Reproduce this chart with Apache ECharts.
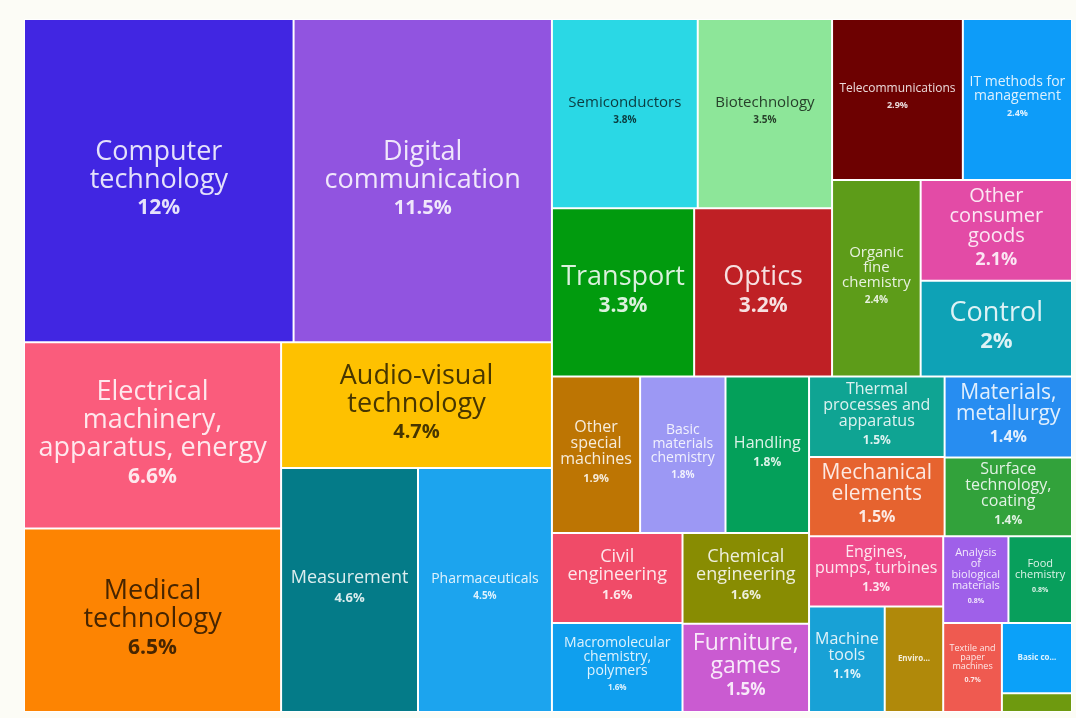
<!DOCTYPE html>
<html>
<head>
<meta charset="utf-8">
<title>Technology fields</title>
<script src="https://cdn.jsdelivr.net/npm/echarts@6/dist/echarts.min.js"></script>
<style>
  html, body { margin: 0; padding: 0; background: #fcfcf6; }
  #main { width: 1076px; height: 718px; }
</style>
</head>
<body>
<div id="main"></div>
<script>
// technology fields, largest share first (%)
const fields = [
  'Computer technology', 'Digital communication', 'Electrical machinery, apparatus, energy',
  'Medical technology', 'Audio-visual technology', 'Measurement', 'Pharmaceuticals',
  'Semiconductors', 'Biotechnology', 'Transport', 'Optics', 'Telecommunications',
  'IT methods for management', 'Organic fine chemistry', 'Other consumer goods', 'Control',
  'Other special machines', 'Basic materials chemistry', 'Handling', 'Civil engineering',
  'Macromolecular chemistry, polymers', 'Chemical engineering', 'Furniture, games',
  'Thermal processes and apparatus', 'Mechanical elements', 'Materials, metallurgy',
  'Surface technology, coating', 'Engines, pumps, turbines', 'Machine tools',
  'Environmental technology', 'Analysis of biological materials', 'Food chemistry',
  'Textile and paper machines', 'Basic communication processes',
  'Micro-structural and nano-technology'
];
const shares = [
  12.0, 11.5, 6.6,
  6.5, 4.7, 4.6, 4.5,
  3.8, 3.5, 3.3, 3.2, 2.9,
  2.42, 2.4, 2.1, 2.0,
  1.9, 1.84, 1.8, 1.62,
  1.6, 1.58, 1.54,
  1.5, 1.48, 1.42,
  1.38, 1.3, 1.1,
  0.85, 0.78, 0.76,
  0.72, 0.68,
  0.18
];

// ---- styling ----
const CHART_W = 1048;
const CHART_H = 693;
const tileColors = [
  '#4126e2', '#9154e0', '#fa5c7c',
  '#fd8402', '#fec100', '#047b88', '#1ca4ee',
  '#2ad8e5', '#8de699', '#019b0e', '#bf2025', '#6d0101',
  '#0d9cf9', '#5d9c19', '#e34ba6', '#0ea2b6',
  '#bd7503', '#9c98f4', '#04a05a', '#f04b68',
  '#0f9fee', '#888c02', '#ca5bd1',
  '#0fa493', '#e6632f', '#278df1',
  '#32a23b', '#ee4b8b', '#18a1d6',
  '#b0890a', '#9f60e9', '#089f5c',
  '#ef5a50', '#0ba1f9',
  '#6e9a0f'
];
// font size of the name, then of the percentage (0 = none)
const nameSizes = [27, 27, 27, 27, 27, 18, 14, 15, 15, 27, 27, 12, 14, 15, 20, 27,
  16, 14, 16, 18, 14, 18, 23, 16, 21, 21, 16, 16, 16, 8, 11, 11, 9, 8, 0];
const pctSizes = [21, 20, 21, 21, 20, 13, 10, 10, 10, 21, 21, 9, 9, 10, 18, 22,
  11, 10, 12, 13, 8, 13, 17, 12, 16, 16, 12, 12, 12, 0, 7, 7, 7, 0, 0];

const wrapped = {
  'Computer technology': 'Computer\ntechnology',
  'Digital communication': 'Digital\ncommunication',
  'Electrical machinery, apparatus, energy': 'Electrical\nmachinery,\napparatus, energy',
  'Medical technology': 'Medical\ntechnology',
  'Audio-visual technology': 'Audio-visual\ntechnology',
  'IT methods for management': 'IT methods for\nmanagement',
  'Organic fine chemistry': 'Organic\nfine\nchemistry',
  'Other consumer goods': 'Other\nconsumer\ngoods',
  'Other special machines': 'Other\nspecial\nmachines',
  'Basic materials chemistry': 'Basic\nmaterials\nchemistry',
  'Civil engineering': 'Civil\nengineering',
  'Macromolecular chemistry, polymers': 'Macromolecular\nchemistry,\npolymers',
  'Chemical engineering': 'Chemical\nengineering',
  'Furniture, games': 'Furniture,\ngames',
  'Thermal processes and apparatus': 'Thermal\nprocesses and\napparatus',
  'Mechanical elements': 'Mechanical\nelements',
  'Materials, metallurgy': 'Materials,\nmetallurgy',
  'Surface technology, coating': 'Surface\ntechnology,\ncoating',
  'Engines, pumps, turbines': 'Engines,\npumps, turbines',
  'Machine tools': 'Machine\ntools',
  'Analysis of biological materials': 'Analysis\nof\nbiological\nmaterials',
  'Food chemistry': 'Food\nchemistry',
  'Textile and paper machines': 'Textile and\npaper\nmachines'
};
// tiles too small for the whole name get a narrow, truncated label
const narrowPad = {
  'Environmental technology': 11,
  'Basic communication processes': 10
};

const FONT = "'Open Sans', 'Noto Sans', sans-serif";

function luminance(hex) {
  const c = [1, 3, 5].map(i => parseInt(hex.substr(i, 2), 16) / 255)
    .map(v => v <= 0.03928 ? v / 12.92 : Math.pow((v + 0.055) / 1.055, 2.4));
  return 0.2126 * c[0] + 0.7152 * c[1] + 0.0722 * c[2];
}
function mix(hex, target, t) {
  const out = [1, 3, 5].map(i => {
    const v = parseInt(hex.substr(i, 2), 16);
    return Math.round(v + (target - v) * t).toString(16).padStart(2, '0');
  });
  return '#' + out.join('');
}
// tinted text: dark on light tiles, near white on the rest
function textColor(hex) {
  return luminance(hex) > 0.37 ? mix(hex, 0, 0.72) : mix(hex, 255, 0.86);
}
function fmtPct(v) {
  return +v.toFixed(1) + '%';
}

// h = tile height, only used to push the label block to the middle
function makeLeaf(i, h) {
  const name = fields[i];
  const ns = nameSizes[i];
  const ps = pctSizes[i];
  const col = tileColors[i];
  const txt = textColor(col);
  const shown = wrapped[name] || name;
  const nameLH = Math.round(ns * 1.02);
  const pctLH = Math.round(ps * 0.7 + 14);
  let formatter = '{n|' + shown + '}';
  let blockH = shown.split('\n').length * nameLH;
  if (ps) {
    formatter += '\n{v|' + fmtPct(shares[i]) + '}';
    blockH += pctLH;
  }
  const side = narrowPad[name] || 2;
  const padTop = Math.max(0, Math.floor((h - 2 - blockH) / 2));
  return {
    name: name,
    value: shares[i],
    itemStyle: { color: col, borderColor: '#fff', borderWidth: 1 },
    label: {
      show: ns > 0,
      padding: [padTop, side, 0, side],
      formatter: formatter,
      rich: {
        n: {
          fontFamily: FONT, fontSize: ns, color: txt,
          fontWeight: narrowPad[name] ? 'bold' : 'normal',
          lineHeight: nameLH
        },
        v: {
          fontFamily: FONT, fontSize: ps, color: txt, fontWeight: 'bold',
          lineHeight: pctLH
        }
      }
    }
  };
}

// balanced binary split of the sorted list, halves by value,
// cut across the longer side (the treemap does the same with squareRatio 1)
function split(idx, w, h) {
  if (idx.length === 1) return makeLeaf(idx[0], h);
  const sums = [0];
  idx.forEach(i => sums.push(sums[sums.length - 1] + shares[i]));
  const n = idx.length;
  const target = sums[n] / 2;
  let k = 1, hi = n - 1;
  while (k < hi) {
    const mid = (k + hi) >>> 1;
    if (sums[mid] < target) k = mid + 1; else hi = mid;
  }
  if (target - sums[k - 1] < sums[k] - target && k > 1) --k;
  const f = sums[k] / sums[n];
  const wide = w > h;
  return {
    name: '',
    itemStyle: { borderWidth: 0, gapWidth: 0 },
    children: [
      split(idx.slice(0, k), wide ? w * f : w, wide ? h : h * f),
      split(idx.slice(k), wide ? w * (1 - f) : w, wide ? h : h * (1 - f))
    ]
  };
}

const tree = split(fields.map((f, i) => i), CHART_W, CHART_H);

const chart = echarts.init(document.getElementById('main'));
chart.setOption({
  animation: false,
  tooltip: { show: false },
  series: [
    {
      type: 'treemap',
      left: 24,
      top: 19,
      width: CHART_W,
      height: CHART_H,
      squareRatio: 1,
      sort: false,
      roam: false,
      nodeClick: false,
      breadcrumb: { show: false },
      itemStyle: { borderWidth: 0, gapWidth: 0, borderColor: '#fff' },
      label: { fontFamily: FONT },
      emphasis: { disabled: true },
      data: tree.children
    }
  ]
});
</script>
</body>
</html>
